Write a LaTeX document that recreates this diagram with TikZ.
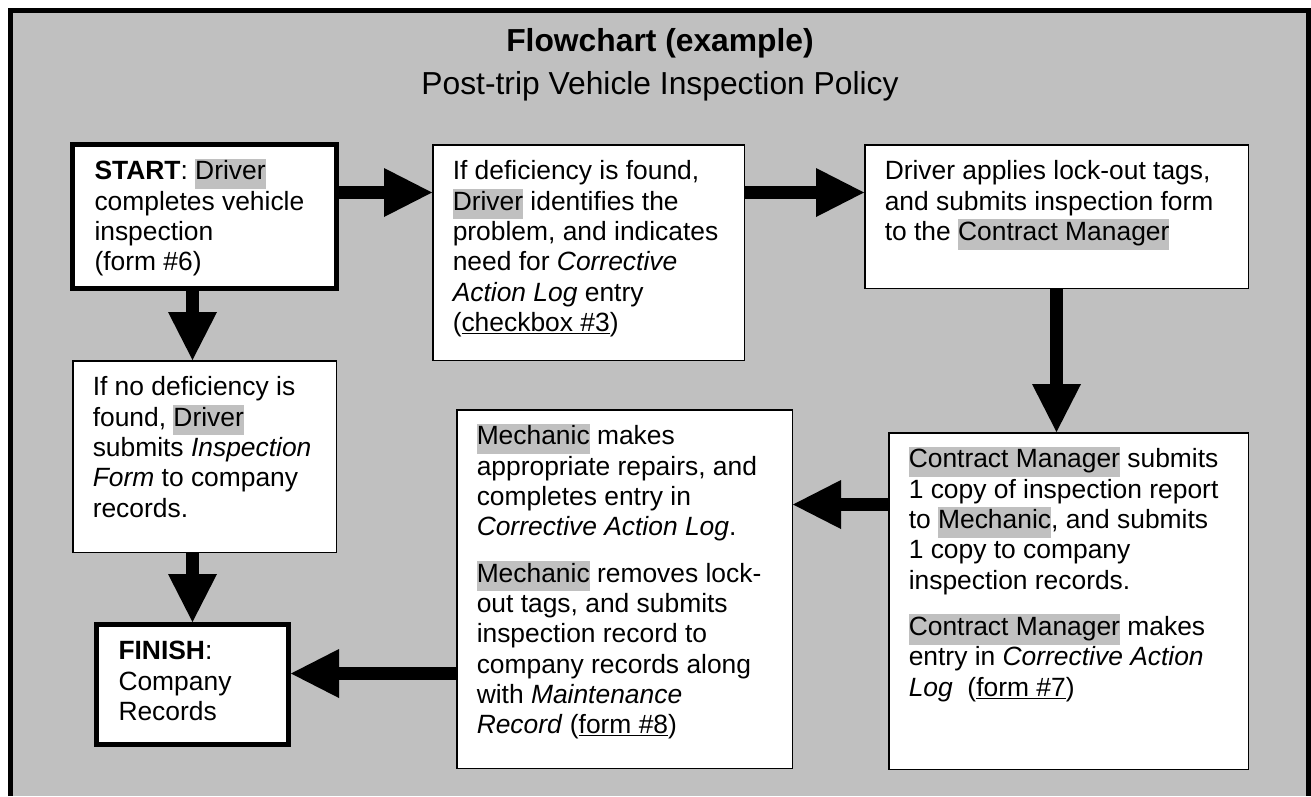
\documentclass[tikz,border=0pt]{standalone}
\usepackage{fontspec}
\setmainfont{Liberation Sans}
\usetikzlibrary{arrows.meta}

\definecolor{bggray}{HTML}{C0C0C0}
\newcommand{\bodyfont}{\fontsize{26.4}{30.3}\selectfont}
\newcommand{\titlefont}{\fontsize{31.8}{36}\selectfont}
\newcommand{\hlname}[1]{{\setlength{\fboxsep}{0pt}\colorbox{bggray}{\strut #1}}}
\newcommand{\boxtext}[3]{\parbox[c][#2][t]{#1}{\begin{tabular}[t]{@{}l@{}}#3\end{tabular}}}

\begin{document}
\begin{tikzpicture}[x=1pt, y=-1pt,
    stepbox/.style={draw, fill=white, line width=1.5pt, inner xsep=20pt, inner ysep=14pt, anchor=north west, font=\bodyfont},
    endbox/.style={stepbox, line width=5pt, inner xsep=22pt},
    flow/.style={line width=13pt, -{Triangle[length=48pt, width=49pt, line width=0pt]}}]

        %Frame
        \useasboundingbox (0,0) rectangle (1311,796);
        \fill [bggray] (10,10) rectangle (1308,796);
        \draw [line width=5pt] (10,796) -- (10,10) -- (1308,10) -- (1308,796);
        %Title
        \node [anchor=base, font=\titlefont\bfseries] (title) at (660,51) {Flowchart (example)};
        \node [anchor=base, font=\titlefont] (subtitle) at (660,94) {Post-trip Vehicle Inspection Policy};
        %Start
        \node [endbox] (start) at (70,142) {\boxtext{220pt}{116pt}{
          \textbf{START}: \hlname{Driver}\\
          completes vehicle\\
          inspection\\
          (form \#6)}};
        %Deficiency found
        \node [stepbox] (defect) at (432,144) {\boxtext{271.5pt}{187.5pt}{
          If deficiency is found,\\
          \hlname{Driver} identifies the\\
          problem, and indicates\\
          need for \textit{Corrective}\\
          \textit{Action Log} entry\\
          (\underline{checkbox \#3})}};
        %Lock-out tags
        \node [stepbox] (tags) at (864,144) {\boxtext{343.5pt}{115.5pt}{
          Driver applies lock-out tags,\\
          and submits inspection form\\
          to the \hlname{Contract Manager}}};
        %Contract Manager
        \node [stepbox] (manager) at (888,432) {\boxtext{319.5pt}{308.5pt}{
          \hlname{Contract Manager} submits\\
          1 copy of inspection report\\
          to \hlname{Mechanic}, and submits\\
          1 copy to company\\
          inspection records.\\[16pt]
          \hlname{Contract Manager} makes\\
          entry in \textit{Corrective Action}\\
          \textit{Log}\ \ (\underline{form \#7})}};
        %Mechanic
        \node [stepbox] (mech) at (456,409) {\boxtext{295.5pt}{330.5pt}{
          \hlname{Mechanic} makes\\
          appropriate repairs, and\\
          completes entry in\\
          \textit{Corrective Action Log}.\\[16pt]
          \hlname{Mechanic} removes lock-\\
          out tags, and submits\\
          inspection record to\\
          company records along\\
          with \textit{Maintenance}\\
          \textit{Record} (\underline{form \#8})}};
        %No deficiency
        \node [stepbox] (nodef) at (72,360) {\boxtext{223.5pt}{163.5pt}{
          If no deficiency is\\
          found, \hlname{Driver}\\
          submits \textit{Inspection}\\
          \textit{Form} to company\\
          records.}};
        %Finish
        \node [endbox] (finish) at (94,622) {\boxtext{148pt}{92pt}{
          \textbf{FINISH}:\\
          Company\\
          Records}};
        %Arrows
        \draw [flow] ([yshift=-50.5pt]start.north east) -- ([yshift=-48.5pt]defect.north west);
        \draw [flow] ([yshift=-48.5pt]defect.north east) -- ([yshift=-48.5pt]tags.north west);
        \draw [flow] (tags.south) -- (tags.south |- manager.north);
        \draw [flow] ([yshift=-72.5pt]manager.north west) -- ([yshift=-95.5pt]mech.north east);
        \draw [flow] ([yshift=-264.5pt]mech.north west) -- ([yshift=-51.5pt]finish.north east);
        \draw [flow] ([xshift=-12pt]start.south) -- ([xshift=-12pt]nodef.north);
        \draw [flow] ([xshift=-12pt]nodef.south) -- (finish.north);
      \end{tikzpicture}
\end{document}
